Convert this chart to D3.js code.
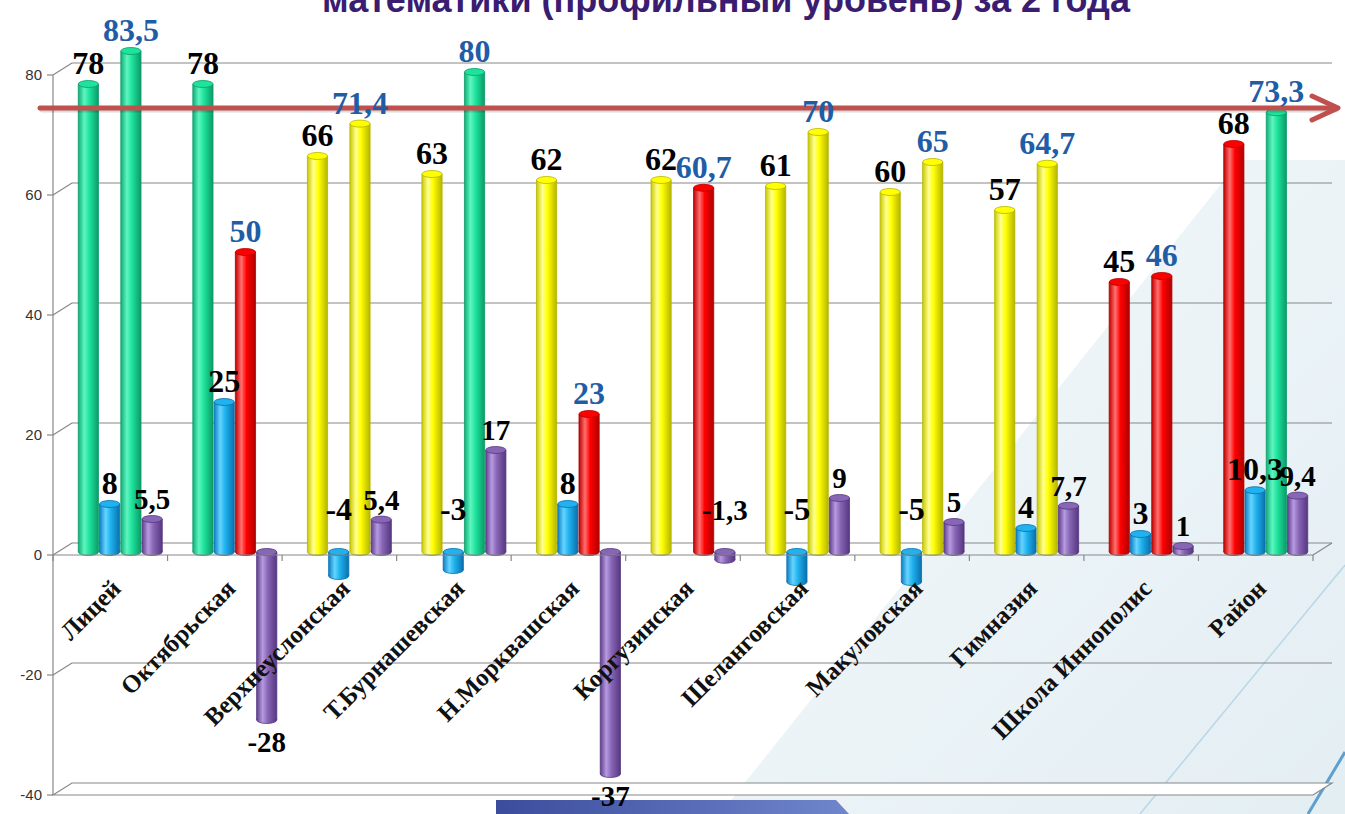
<!DOCTYPE html>
<html lang="ru">
<head>
<meta charset="utf-8">
<title>Математика профиль</title>
<script src="https://d3js.org/d3.v7.min.js"></script>
<style>
  body { margin: 0; background: #fff; }
  svg { display: block; }
</style>
</head>
<body>
<div id="chart"></div>
<script>
// categories (schools) and values for the two years
const categories = ["Лицей", "Октябрьская", "Верхнеуслонская", "Т.Бурнашевская", "Н.Морквашская",
  "Коргузинская", "Шеланговская", "Макуловская", "Гимназия", "Школа Иннополис", "Район"];
const prevYear = [78, 78, 66, 63, 62, 62, 61, 60, 57, 45, 68];
const prevDiff = [8, 25, -4, -3, 8, null, -5, -5, 4, 3, 10.3];
const lastYear = [83.5, 50, 71.4, 80, 23, 60.7, 70, 65, 64.7, 46, 73.3];
const lastDiff = [5.5, -28, 5.4, 17, -37, -1.3, 9, 5, 7.7, 1, 9.4];
const prevColor = ["green", "green", "yellow", "yellow", "yellow", "yellow", "yellow", "yellow", "yellow", "red", "red"];
const lastColor = ["green", "red", "yellow", "green", "red", "red", "yellow", "yellow", "yellow", "red", "green"];
const yTicks = [-40, -20, 0, 20, 40, 60, 80];
const referenceLevel = 74;
const title = "математики (профильный уровень) за 2 года";

const palette = {
  green:  ["#0fae78", "#5ff5c0", "#1de39c", "#0c9a68"],
  blue:   ["#0b7fc4", "#66d4ff", "#1fb2ee", "#0a6fad"],
  yellow: ["#c9c900", "#ffff90", "#ffff00", "#b5b500"],
  red:    ["#c00000", "#ff7070", "#ff0000", "#b00000"],
  purple: ["#5e3f8c", "#b79ae0", "#8866b6", "#553780"]
};

const width = 1345, height = 814;
const svg = d3.select("#chart").append("svg")
  .attr("width", width).attr("height", height);
const defs = svg.append("defs");

Object.keys(palette).forEach(function(k) {
  const c = palette[k];
  const g = defs.append("linearGradient").attr("id", "g-" + k)
    .attr("x1", "0%").attr("x2", "100%").attr("y1", "0%").attr("y2", "0%");
  g.append("stop").attr("offset", "0%").attr("stop-color", c[0]);
  g.append("stop").attr("offset", "30%").attr("stop-color", c[1]);
  g.append("stop").attr("offset", "55%").attr("stop-color", c[2]);
  g.append("stop").attr("offset", "100%").attr("stop-color", c[3]);
});
const bg = defs.append("linearGradient").attr("id", "bg")
  .attr("x1", "0%").attr("x2", "100%").attr("y1", "0%").attr("y2", "100%");
bg.append("stop").attr("offset", "0%").attr("stop-color", "#f4f9fb");
bg.append("stop").attr("offset", "100%").attr("stop-color", "#e3eef3");
const band = defs.append("linearGradient").attr("id", "band")
  .attr("x1", "0%").attr("x2", "100%");
band.append("stop").attr("offset", "0%").attr("stop-color", "#3b4c9c");
band.append("stop").attr("offset", "100%").attr("stop-color", "#6f86cc");

// slide background
svg.append("path")
  .attr("d", "M1240,160 L1345,160 L1345,814 L720,814 Z")
  .attr("fill", "url(#bg)");
svg.append("line").attr("x1", 1140).attr("y1", 814).attr("x2", 1345).attr("y2", 565)
  .attr("stroke", "#b9d6e6").attr("stroke-width", 1.5);
svg.append("line").attr("x1", 1308).attr("y1", 814).attr("x2", 1345).attr("y2", 752)
  .attr("stroke", "#5f9fcf").attr("stroke-width", 3);
svg.append("path").attr("d", "M496,800 L836,800 L849,814 L496,814 Z").attr("fill", "url(#band)");

// scales
const y = d3.scaleLinear().domain([-40, 80]).range([792, 72]);
const x0 = d3.scaleBand().domain(categories).range([53, 1313]);
const x1 = d3.scaleBand().domain([0, 1, 2, 3]).range([-42, 42]).paddingInner(0.05);
const depthX = 19, backY = -9, frontY = 3;
const xLeft = x0.range()[0], xRight = x0.range()[1];

const grid = svg.append("g").attr("stroke", "#888").attr("stroke-width", 1.2).attr("fill", "none");

// -40 floor slab
const yb40 = y(-40) + backY, yf40 = y(-40) + frontY;
grid.append("path")
  .attr("d", "M" + xLeft + "," + yf40 + " L" + (xLeft + depthX) + "," + yb40 + " L" + (xRight + depthX) + "," + yb40 +
    " L" + xRight + "," + yf40 + " Z")
  .attr("fill", "#fff");

yTicks.forEach(function(v) {
  if (v === -40) return;
  grid.append("line")
    .attr("x1", xLeft + depthX).attr("x2", xRight + depthX)
    .attr("y1", y(v) + backY).attr("y2", y(v) + backY);
  grid.append("line")
    .attr("x1", xLeft).attr("x2", xLeft + depthX)
    .attr("y1", y(v) + frontY).attr("y2", y(v) + backY);
});
// 0 floor right edge
grid.append("line")
  .attr("x1", xRight).attr("x2", xRight + depthX)
  .attr("y1", y(0) + frontY).attr("y2", y(0) + backY);

// bars
const series = [
  { values: prevYear, colors: prevColor, label: "#000", size: 32 },
  { values: prevDiff, colors: categories.map(function() { return "blue"; }), label: "#000", size: 32 },
  { values: lastYear, colors: lastColor, label: "#1f5da6", size: 32 },
  { values: lastDiff, colors: categories.map(function() { return "purple"; }), label: "#000", size: 29 }
];
const bars = [];
series.forEach(function(s, i) {
  categories.forEach(function(c, j) {
    if (s.values[j] === null) return;
    bars.push({ cat: c, s: i, value: s.values[j], color: s.colors[j], label: s.label, size: s.size });
  });
});
function barX(d) { return x0(d.cat) + x0.bandwidth() / 2 + 10 + x1(d.s); }
const bw = x1.bandwidth(), ry = 3.5;

const barG = svg.append("g");
bars.forEach(function(d) {
  const c = palette[d.color];
  const xl = barX(d), cx = xl + bw / 2;
  const yTop = y(Math.max(d.value, 0)), yBot = y(Math.min(d.value, 0));
  const g = barG.append("g");
  g.append("ellipse").attr("cx", cx).attr("cy", yBot).attr("rx", bw / 2).attr("ry", ry)
    .attr("fill", "url(#g-" + d.color + ")").attr("stroke", c[3]).attr("stroke-width", 0.8);
  g.append("rect").attr("x", xl).attr("y", yTop).attr("width", bw).attr("height", Math.max(yBot - yTop, 0))
    .attr("fill", "url(#g-" + d.color + ")");
  g.append("line").attr("x1", xl).attr("x2", xl).attr("y1", yTop).attr("y2", yBot).attr("stroke", c[3]).attr("stroke-width", 0.8);
  g.append("line").attr("x1", xl + bw).attr("x2", xl + bw).attr("y1", yTop).attr("y2", yBot).attr("stroke", c[3]).attr("stroke-width", 0.8);
  g.append("ellipse").attr("cx", cx).attr("cy", yTop).attr("rx", bw / 2).attr("ry", ry)
    .attr("fill", c[2]).attr("stroke", c[3]).attr("stroke-width", 0.8);
});

// axes (front)
const axis = svg.append("g").attr("stroke", "#888").attr("stroke-width", 1.2);
axis.append("line").attr("x1", xLeft).attr("x2", xLeft)
  .attr("y1", y(80) + frontY).attr("y2", y(-40) + frontY);
axis.append("line").attr("x1", xLeft).attr("x2", xRight)
  .attr("y1", y(0) + frontY).attr("y2", y(0) + frontY);
yTicks.forEach(function(v) {
  axis.append("line").attr("x1", xLeft - 6).attr("x2", xLeft)
    .attr("y1", y(v) + frontY).attr("y2", y(v) + frontY);
});
categories.concat([null]).forEach(function(c) {
  const xx = c === null ? xRight : x0(c);
  axis.append("line").attr("x1", xx).attr("x2", xx)
    .attr("y1", y(0) + frontY).attr("y2", y(0) + frontY + 6);
});
svg.append("g").selectAll("text").data(yTicks).enter().append("text")
  .attr("x", 42).attr("y", function(v) { return y(v) + frontY; })
  .attr("dy", "0.35em").attr("text-anchor", "end")
  .attr("font-family", "Liberation Sans, Arial, sans-serif").attr("font-size", 15)
  .attr("fill", "#333").text(function(v) { return v; });

// category labels
svg.append("g").selectAll("text").data(categories).enter().append("text")
  .attr("transform", function(c) {
    return "translate(" + (x0(c) + x0.bandwidth() / 2 + 12) + "," + 590 + ") rotate(-45)";
  })
  .attr("text-anchor", "end")
  .attr("font-family", "Liberation Serif, Times New Roman, serif").attr("font-weight", "bold")
  .attr("font-size", 25).attr("fill", "#111")
  .text(function(c) { return c; });

// reference arrow
const yr = y(referenceLevel);
const arrow = svg.append("g").attr("fill", "none").attr("stroke-linecap", "round").attr("stroke-linejoin", "round");
arrow.append("line").attr("x1", 42).attr("x2", 1336).attr("y1", yr + 2).attr("y2", yr + 2)
  .attr("stroke", "#000").attr("stroke-opacity", 0.15).attr("stroke-width", 5);
arrow.append("line").attr("x1", 40).attr("x2", 1336).attr("y1", yr).attr("y2", yr)
  .attr("stroke", "#c0504d").attr("stroke-width", 5);
arrow.append("polyline")
  .attr("points", (1312) + "," + (yr - 12) + " " + 1338 + "," + yr + " " + 1312 + "," + (yr + 12))
  .attr("stroke", "#c0504d").attr("stroke-width", 5);

// value labels
function fmt(v) { return String(v).replace(".", ","); }
svg.append("g").selectAll("text").data(bars).enter().append("text")
  .attr("x", function(d) { return barX(d) + bw / 2; })
  .attr("y", function(d) {
    if (d.value >= 0) return y(d.value) - 10;
    if (d.value < -10) return y(d.value) + 32;
    return y(0) - 32;
  })
  .attr("text-anchor", "middle")
  .attr("font-family", "Liberation Serif, Times New Roman, serif").attr("font-weight", "bold")
  .attr("font-size", function(d) { return d.size; })
  .attr("fill", function(d) { return d.label; })
  .text(function(d) { return fmt(d.value); });

// title (top of slide, partly cut as on the slide)
svg.append("text")
  .attr("x", 726).attr("y", 12)
  .attr("text-anchor", "middle")
  .attr("font-family", "Liberation Sans, Arial, sans-serif").attr("font-weight", "bold")
  .attr("font-size", 36).attr("fill", "#3a1c71")
  .text(title);
</script>
</body>
</html>
